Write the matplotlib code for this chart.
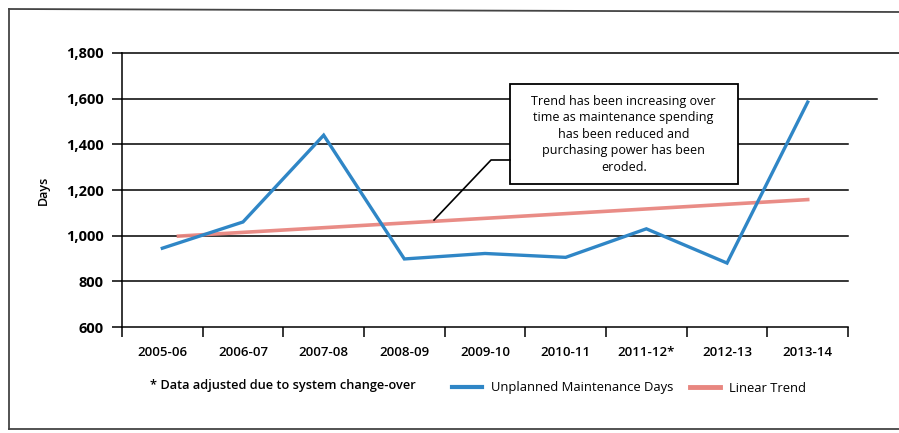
"""
Unplanned maintenance days by financial year, with linear trend.
Recreated from a scanned report chart.
"""

import matplotlib
matplotlib.use("Agg")
import matplotlib.pyplot as plt
from matplotlib.lines import Line2D
from matplotlib.patches import Rectangle

# ---- data ----
YEARS = ["2005-06", "2006-07", "2007-08", "2008-09", "2009-10",
         "2010-11", "2011-12*", "2012-13", "2013-14"]
UNPLANNED_DAYS = [945, 1060, 1440, 898, 922, 905, 1030, 880, 1585]

# linear trend, read at its two ends (category index, days)
TREND_X = [0.2, 8.0]
TREND_DAYS = [998, 1158]

Y_TICKS = [600, 800, 1000, 1200, 1400, 1600, 1800]

BLUE = "#2f86c6"
PINK = "#e88680"
FONT = "Open Sans"

plt.rcParams.update({
    "font.family": FONT,
    "font.size": 10,
    "axes.spines.top": False,
    "axes.spines.right": False,
})

fig = plt.figure(figsize=(8.99, 4.33), dpi=100)
ax = fig.add_axes([0.1357, 0.2448, 0.8076, 0.6328])

x = list(range(len(YEARS)))

# gridlines (the top two run past the plot area in the scan)
extend = {1800: 1.07, 1600: 1.04}
for v in Y_TICKS[1:]:
    ax.axhline(v, xmin=0, xmax=extend.get(v, 1.0), color="black",
               lw=1.1, zorder=1, clip_on=False)

ax.plot(x, UNPLANNED_DAYS, color=BLUE, lw=2.4, zorder=3,
        solid_joinstyle="miter", label="Unplanned Maintenance Days")
ax.plot(TREND_X, TREND_DAYS, color=PINK, lw=2.6, alpha=0.95, zorder=2,
        label="Linear Trend")

ax.set_xlim(-0.5, len(YEARS) - 0.5)
ax.set_ylim(600, 1800)
ax.set_yticks(Y_TICKS)
ax.set_yticklabels([f"{v:,}" for v in Y_TICKS], fontweight="bold",
                   fontsize=10.5)
ax.set_xticks(x)
ax.set_xticklabels(YEARS, fontweight="semibold", fontsize=9.5)
ax.set_xticks([i - 0.5 for i in range(len(YEARS) + 1)], minor=True)
ax.tick_params(axis="x", which="major", length=0, pad=14)
ax.tick_params(axis="x", which="minor", length=7, width=1.1, direction="out")
ax.tick_params(axis="y", length=7, width=1.1, pad=6)
ax.spines["left"].set_linewidth(1.1)
ax.spines["bottom"].set_linewidth(1.1)
ax.set_ylabel("Days", fontsize=9, fontweight="semibold", labelpad=12)

# annotation box and leader line
ax.add_patch(Rectangle((0.5344, 0.522), 0.314, 0.365, transform=ax.transAxes,
                       facecolor="white", edgecolor="black", lw=1.3, zorder=4))
ax.text(0.691, 0.704,
        "Trend has been increasing over\ntime as maintenance spending\n"
        "has been reduced and\npurchasing power has been\neroded.",
        transform=ax.transAxes, ha="center", va="center", fontsize=9,
        linespacing=1.35, zorder=5)
ax.plot([0.4298, 0.5083, 0.5344], [0.3905, 0.6095, 0.6095],
        transform=ax.transAxes, color="black", lw=1.2, zorder=4)

# footnote + legend
fig.text(150 / 899, 1 - 386 / 433, "* Data adjusted due to system change-over",
         fontsize=9.2, fontweight="semibold", va="center", ha="left")
handles = [Line2D([], [], color=BLUE, lw=3),
           Line2D([], [], color=PINK, lw=3.5)]
fig.legend(handles, ["Unplanned Maintenance Days", "Linear Trend"],
           loc="center left", bbox_to_anchor=(445 / 899, 1 - 388 / 433),
           ncol=2, frameon=False, handlelength=2.3,
           handletextpad=0.7, columnspacing=1.3, borderpad=0,
           prop={"family": FONT, "size": 9.4, "weight": "medium"})

# outer frame of the scanned figure
for xs, ys in [([9 / 899, 1.0], [1 - 9 / 433, 1 - 12 / 433]),
               ([9 / 899, 9 / 899], [1 - 9 / 433, 1 - 429 / 433]),
               ([9 / 899, 1.0], [1 - 429 / 433, 1 - 429 / 433])]:
    fig.add_artist(Line2D(xs, ys, transform=fig.transFigure,
                          color="#444444", lw=1.3))

fig.savefig("out.png", dpi=100)
